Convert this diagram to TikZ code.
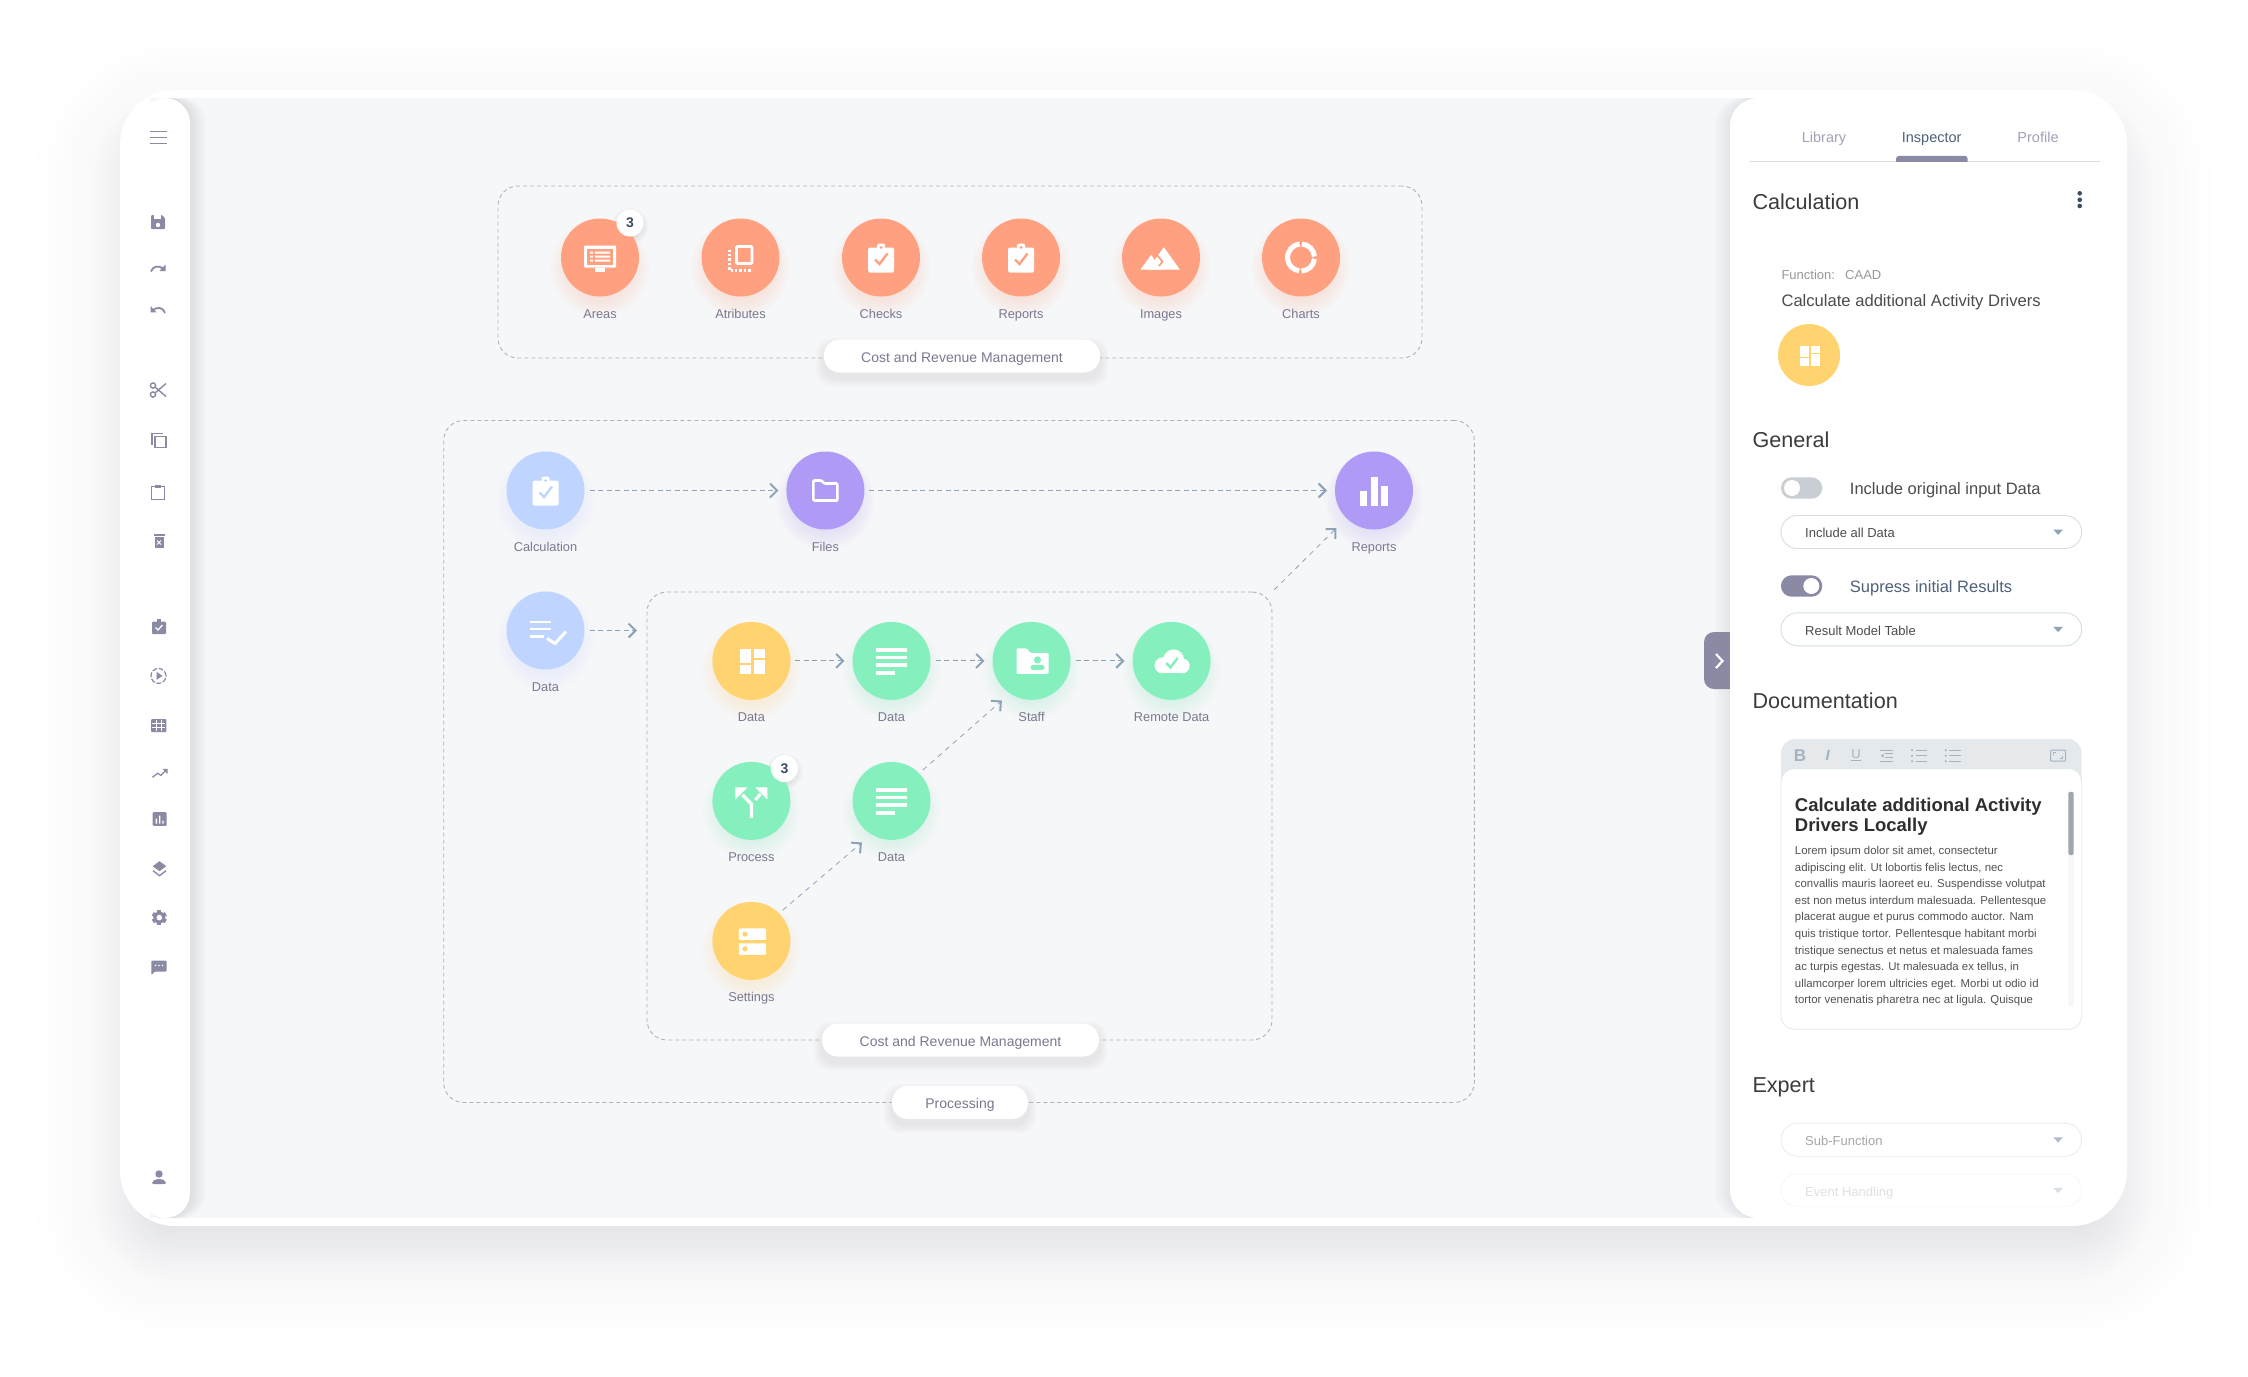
\documentclass[tikz,border=0pt]{standalone}
\usepackage{fontspec}
\setmainfont{Liberation Sans}
\usepackage{tikz}
\usetikzlibrary{arrows.meta, positioning, backgrounds}

\definecolor{canvasc}{HTML}{F6F7F9}
\definecolor{orangec}{HTML}{FFA180}
\definecolor{bluec}{HTML}{BFD5FF}
\definecolor{purplec}{HTML}{AF9BF5}
\definecolor{yellowc}{HTML}{FFD470}
\definecolor{greenc}{HTML}{85F0BD}
\definecolor{tagc}{HTML}{7A7890}
\definecolor{inkc}{HTML}{8A8AA5}
\definecolor{flowc}{HTML}{8EA3B8}
\definecolor{boxc}{HTML}{AEB2B9}
\definecolor{linec}{HTML}{D5DFE2}
\definecolor{headc}{HTML}{3C3C3C}
\definecolor{barc}{HTML}{A3B2BF}
\definecolor{slatec}{HTML}{4F6078}
\definecolor{dotc}{HTML}{3D4C60}
\definecolor{shadowc}{HTML}{464B64}
\definecolor{offc}{HTML}{C9CED5}

\newcommand{\sizept}[1]{\fontsize{#1}{#1}\selectfont}
\newcommand{\putIcon}[4][1]{\begin{scope}[shift={(#2)},scale=#1,color=#3]#4\end{scope}}

% soft shadows, all on the background layer
\newcommand{\glow}[2]{\begin{pgfonlayer}{background}
    \foreach \r in {22,25,...,49} \fill[#2,opacity=.036] ([yshift=-10pt]#1) circle (\r pt);
\end{pgfonlayer}}
\newcommand{\pillglow}[1]{\begin{pgfonlayer}{background}
    \foreach \s in {1,...,8} \fill[black!70,opacity=.012,rounded corners=16pt]
        ([xshift=-\s pt,yshift=-6pt-\s pt]#1.south west) rectangle ([xshift=\s pt,yshift=-6pt+\s pt]#1.north east);
\end{pgfonlayer}}
\newcommand{\badgeglow}[1]{\begin{pgfonlayer}{background}
    \foreach \r in {12,14,16,18} \fill[black!70,opacity=.03] ([yshift=-3pt]#1) circle (\r pt);
\end{pgfonlayer}}

% bubble icons, in pixels round the centre
\newcommand{\icAreas}[1]{
    \fill[rounded corners=1pt] (-16,-12) rectangle (16,10);
    \fill[#1] (-13,-9) rectangle (13,7);
    \fill (-10,-6) rectangle (-7,-4) (-5,-6) rectangle (10,-4);
    \fill (-10,-2) rectangle (-7,0) (-5,-2) rectangle (10,0);
    \fill (-10,2) rectangle (-7,4) (-5,2) rectangle (10,4);
    \fill (-5,10) rectangle (5,14);
}
\newcommand{\icAttr}{
    \draw[line width=2.6pt,rounded corners=1pt] (-4,-11) rectangle (11.5,6);
    \draw[line width=2.4pt,dash pattern=on 2.4pt off 2pt] (-11,-8) -- (-11,13) -- (12,13);
}
\newcommand{\icClip}[1]{
    \fill[rounded corners=1.5pt] (-13,-10) rectangle (13,15);
    \fill[rounded corners=1.5pt] (-4,-14) rectangle (4,-8);
    \fill[#1] (0,-10) circle (1.5pt);
    \draw[#1,line width=2.4pt] (-6,2) -- (-1.5,6.5) -- (6.5,-4);
}
\newcommand{\icMount}[1]{
    \fill (2.8,-10.3) -- (18.8,12) -- (-13,12) -- cycle;
    \fill (-9.8,-2.7) -- (0,12) -- (-20.5,12) -- cycle;
    \draw[#1,line width=1.8pt] (-5,-3.5) -- (1.5,4) -- (-2,8.5);
}
\newcommand{\icRing}{
    \draw[line width=5pt] (4:13.5pt) arc[start angle=4,end angle=86,radius=13.5pt];
    \draw[line width=5pt] (96:13.5pt) arc[start angle=96,end angle=262,radius=13.5pt];
    \draw[line width=5pt] (272:13.5pt) arc[start angle=272,end angle=354,radius=13.5pt];
}
\newcommand{\icFolder}{
    \draw[line width=2.6pt,rounded corners=1pt] (-12,-10) -- (-4,-10) -- (-1,-7) -- (12,-7) -- (12,10) -- (-12,10) -- cycle;
}
\newcommand{\icBars}{
    \fill (-14,0) rectangle (-7,15);
    \fill (-3.5,-14) rectangle (3.5,15);
    \fill (7,-5) rectangle (14,15);
}
\newcommand{\icListCheck}{
    \fill (-15.5,-10) rectangle (5.5,-7.5);
    \fill (-15.5,-3) rectangle (5.5,-.5);
    \fill (-15.5,4.5) rectangle (-1.5,7);
    \draw[line width=3pt] (1.5,8) -- (9.5,13) -- (20.5,1);
}
\newcommand{\icDash}{
    \fill (-11.3,-11.8) rectangle (-.4,2.5);
    \fill (-11.3,4.3) rectangle (-.4,13.2);
    \fill (2.2,-11.8) rectangle (13.4,-2.9);
    \fill (2.2,-1.1) rectangle (13.4,13.2);
}
\newcommand{\icLines}{
    \fill (-15.6,-12.5) rectangle (15.6,-9);
    \fill (-15.6,-5.4) rectangle (15.6,-1.8);
    \fill (-15.6,2.5) rectangle (15.6,6);
    \fill (-15.6,10.4) rectangle (3.5,14);
}
\newcommand{\icStaff}[1]{
    \fill[rounded corners=1pt] (-15,-12.5) -- (-5,-12.5) -- (-1,-8) -- (17,-8) -- (17,13) -- (-15,13) -- cycle;
    \fill[#1] (6,-1) circle (3.6pt);
    \fill[#1,rounded corners=2.5pt] (-1,4) rectangle (13,9);
}
\newcommand{\icCloud}[1]{
    \fill (-9,4.5) circle (8pt) (2,-1) circle (10.5pt) (10.5,5) circle (7.5pt);
    \fill (-9,4.5) rectangle (10.5,12.5);
    \draw[#1,line width=2.5pt] (-5.5,2) -- (-1,6.5) -- (6,-3);
}
\newcommand{\icFork}{
    \draw[line width=3.2pt] (0,17) -- (0,3) -- (-9,-6);
    \fill (-16,-13.5) -- (-4,-13.5) -- (-16,-1.5) -- cycle;
    \draw[line width=3.2pt] (4,-1) -- (9,-7);
    \fill (16,-13.5) -- (4,-13.5) -- (16,-1.5) -- cycle;
}
\newcommand{\icServers}[1]{
    \fill[rounded corners=1pt] (-12.6,-12.5) rectangle (14.7,-1);
    \fill[rounded corners=1pt] (-12.6,2.5) rectangle (14.7,14);
    \fill[#1] (-6.5,-6.8) circle (2.6pt) (-6.5,8) circle (2.6pt);
}

\tikzset{
    bubble/.style={circle, fill=#1, minimum size=78pt, inner sep=0pt, outer sep=0pt},
    tag/.style={font={\sizept{12.8}}, text=tagc, inner sep=0pt, text height=9.5pt, text depth=2.5pt},
    badge/.style={circle, fill=white, minimum size=27pt, inner sep=0pt, font={\bfseries\sizept{14}}, text=dotc},
    groupbox/.style={draw=boxc, line width=.9pt, dash pattern=on 4pt off 3pt, rounded corners=20pt, inner sep=0pt, outer sep=0pt},
    pill/.style={fill=white, rounded corners=16pt, minimum height=33pt, inner sep=0pt, font={\sizept{14}}, text=tagc,
        text height=12pt, text depth=0pt},
    flow/.style={draw=flowc, line width=1pt, dash pattern=on 5pt off 3.5pt, shorten <=5pt, shorten >=8pt,
        -{Straight Barb[length=7pt, width=14pt, line width=2pt]}},
    slant/.style={flow, line width=.8pt, dash pattern=on 5pt off 5pt, shorten >=0pt},
    heading/.style={anchor=mid west, inner sep=0pt, yshift=-5.5pt, font={\sizept{21.6}}, text=headc},
    ptext/.style={anchor=mid west, inner sep=0pt, yshift=-3.3pt, font={\sizept{#1}}, text=black!70},
    tabtext/.style={inner sep=0pt, font={\sizept{14.5}}, text=#1, text height=10.5pt, text depth=3pt},
    dropbox/.style={draw=#1, line width=.9pt, fill=white, rounded corners=16.5pt, minimum width=300.7pt, minimum height=33pt, inner sep=0pt},
    toggle/.style={fill=#1, rounded corners=10.7pt, minimum width=41.3pt, minimum height=21.4pt, inner sep=0pt},
    knob/.style={circle, fill=white, minimum size=16pt, inner sep=0pt},
}

\begin{document}
\begin{tikzpicture}[x=1pt, y=-1pt]
    \useasboundingbox (0,0) rectangle (2248,1376);

    \begin{pgfonlayer}{background}
        % card with its big shadow
        \foreach \s [evaluate=\s as \rr using {max(55+\s,20)}] in {85,77,...,30}
            \fill[shadowc, opacity=.0045, rounded corners=\rr pt] ({120-\s},{120-\s}) rectangle ({2127+\s},{1256+\s});
        \foreach \s [evaluate=\s as \rr using {max(55+\s,20)}] in {28,24,...,-28}
            \fill[shadowc, opacity=.0085, rounded corners=\rr pt] ({120-\s},{120-\s}) rectangle ({2127+\s},{1256+\s});
        \fill[white, rounded corners=55pt] (120,90) rectangle (2127,1226);
        \fill[canvasc] (150,98) rectangle (1760,1218);
        \begin{scope}
            \clip (150,98) rectangle (1760,1218);
            \foreach \s in {2,4,...,16} {
                \fill[shadowc, opacity=.016, rounded corners=25pt] (140,98) rectangle ({190+\s},1218);
                \fill[shadowc, opacity=.012, rounded corners=28pt] ({1730-\s},98) rectangle (1800,1218);
            }
        \end{scope}
        \fill[white, rounded corners=25pt] (140,98) rectangle (190,1218);
        \fill[white, rounded corners=28pt] (1730,98) rectangle (1800,1218);
    \end{pgfonlayer}

    % sidebar
    \putIcon{158.3,137.4}{inkc}{\foreach \y in {-6,0,6} \draw[line width=1.8pt] (-8.5,\y) -- (8.5,\y);}
    \putIcon{158,222}{inkc}{
        \fill[rounded corners=1pt] (-7,-7) -- (4,-7) -- (7,-4) -- (7,7) -- (-7,7) -- cycle;
        \fill[white] (-4,-7) rectangle (3,-3.5);
        \fill[white] (0,3) circle (2.2pt);
    }
    \putIcon{158,267.5}{inkc}{
        \draw[line width=1.8pt] (-7,4) .. controls (-5,-2) and (1,-2) .. (5,1);
        \fill (7.5,-3) -- (7.5,3.5) -- (1.5,3.5) -- cycle;
    }
    \putIcon{158,308.9}{inkc}{\begin{scope}[xscale=-1]
        \draw[line width=1.8pt] (-7,4) .. controls (-5,-2) and (1,-2) .. (5,1);
        \fill (7.5,-3) -- (7.5,3.5) -- (1.5,3.5) -- cycle;
    \end{scope}}
    \putIcon{158,390}{inkc}{
        \draw[line width=1.4pt] (-5,-4.5) circle (2.6pt) (-5,4.5) circle (2.6pt);
        \draw[line width=1.4pt] (-3,-3) -- (8,6.5) (-3,3) -- (8,-6.5);
    }
    \putIcon{159,440.5}{inkc}{
        \draw[line width=1.2pt] (-4,-4) rectangle (7,7);
        \draw[line width=1.2pt] (-7,4) -- (-7,-7) -- (4,-7);
    }
    \putIcon{158,492.5}{inkc}{
        \draw[line width=1.3pt] (-6.5,-6) rectangle (6.5,7);
        \fill (-3,-8) rectangle (3,-4.5);
    }
    \putIcon{159,541}{inkc}{
        \fill (-4.5,-4) rectangle (4.5,7);
        \fill (-5.5,-7) rectangle (5.5,-5.5);
        \draw[white, line width=1pt] (-2,-.5) -- (2,3.5) (-2,3.5) -- (2,-.5);
    }
    \putIcon{159,626.5}{inkc}{
        \fill[rounded corners=1pt] (-7,-5) rectangle (7,7.5);
        \fill (-2,-7.5) rectangle (2,-4);
        \draw[white, line width=1.3pt] (-3.5,1) -- (-1,3.5) -- (3.5,-1.5);
    }
    \putIcon{158.5,675.9}{inkc}{
        \draw[line width=1.2pt, dash pattern=on 5pt off 1.6pt] (0,0) circle (7.5pt);
        \fill (-2,-4) -- (4,0) -- (-2,4) -- cycle;
    }
    \putIcon{158.7,725.6}{inkc}{
        \fill[rounded corners=1pt] (-7.6,-6.6) rectangle (7.6,6.6);
        \foreach \x in {-2.7,2.7} \draw[white, line width=.9pt] (\x,-5.5) -- (\x,5.5);
        \foreach \y in {-2.4,2} \draw[white, line width=.9pt] (-6.5,\y) -- (6.5,\y);
    }
    \putIcon{160,773.3}{inkc}{
        \draw[line width=1.3pt] (-7.5,4) -- (-2.5,0) -- (1,2) -- (6.5,-3.5);
        \fill (7.5,-4.5) -- (7.5,.5) -- (2.5,-4.5) -- cycle;
    }
    \putIcon{159.7,819}{inkc}{
        \fill[rounded corners=1pt] (-7,-6.8) rectangle (7,6.8);
        \fill[white] (-4,-.5) rectangle (-2.6,4.5) (-.7,-3.5) rectangle (.7,4.5) (2.6,1.5) rectangle (4,4.5);
    }
    \putIcon{159.5,868.7}{inkc}{
        \fill (0,-7.5) -- (6.8,-2.5) -- (0,2.5) -- (-6.8,-2.5) -- cycle;
        \draw[line width=1.4pt] (-6.5,2) -- (0,7) -- (6.5,2);
    }
    \putIcon{159.3,917.6}{inkc}{
        \foreach \a in {0,60,...,300} \fill[rotate=\a] (-2,-7.5) rectangle (2,-4);
        \fill (0,0) circle (6pt);
        \fill[white] (0,0) circle (2.8pt);
    }
    \putIcon{159,967}{inkc}{
        \fill[rounded corners=1pt] (-7.7,-6.5) -- (7.7,-6.5) -- (7.7,4.5) -- (-4,4.5) -- (-7.7,8) -- cycle;
        \fill[white] (-3.4,-1.6) circle (.9pt) (0,-1.6) circle (.9pt) (3.4,-1.6) circle (.9pt);
    }
    \putIcon{159,1177.5}{inkc}{
        \fill (0,-3.5) circle (3.7pt);
        \fill[rounded corners=2pt] (-7,6.5) -- (-7,4) -- (-3,1.5) -- (3,1.5) -- (7,4) -- (7,6.5) -- cycle;
    }

    % group boxes
    \node[groupbox, minimum width=924pt, minimum height=172pt] (topbox) at (960,272) {};
    \node[groupbox, minimum width=1030.6pt, minimum height=682pt] (procbox) at (959,761.5) {};
    \node[groupbox, minimum width=625pt, minimum height=448pt] (innerbox) at (959.5,816) {};
    \node[pill, minimum width=276pt] (topname) at (962,356) {Cost and Revenue Management};
    \node[pill, minimum width=277pt] (innername) at (960.5,1040) {Cost and Revenue Management};
    \node[pill, minimum width=136pt] (procname) at (960,1102.5) {Processing};
    \pillglow{topname} \pillglow{innername} \pillglow{procname}

    % top row
    \foreach \nm/\xx/\txt in {areas/600/Areas, attribs/740.5/Atributes, checks/881/Checks,
            topreports/1021/Reports, images/1161/Images, charts/1301/Charts} {
        \node[bubble=orangec] (\nm) at (\xx,257.5) {};
        \node[tag, below=12pt of \nm] (\nm-t) {\txt};
        \glow{\nm}{orangec}
    }
    \putIcon{areas}{white}{\icAreas{orangec}}
    \putIcon{attribs}{white}{\icAttr}
    \putIcon{checks}{white}{\icClip{orangec}}
    \putIcon{topreports}{white}{\icClip{orangec}}
    \putIcon{images}{white}{\icMount{orangec}}
    \putIcon{charts}{white}{\icRing}
    \node[badge] (areasbadge) at (630,223) {3};
    \badgeglow{areasbadge}

    % processing
    \node[bubble=bluec] (calc) at (545.5,490.5) {};
    \node[bubble=purplec] (files) at (825.4,490.5) {};
    \node[bubble=purplec] (reports) at (1374,490.5) {};
    \node[bubble=bluec] (input) at (545.5,630.5) {};
    \node[bubble=yellowc] (layout) at (751.4,660.9) {};
    \node[bubble=greenc] (dataa) at (891.5,660.9) {};
    \node[bubble=greenc] (staff) at (1031.5,660.9) {};
    \node[bubble=greenc] (remote) at (1171.6,660.9) {};
    \node[bubble=greenc] (process) at (751.4,800.9) {};
    \node[bubble=greenc] (datab) at (891.5,800.9) {};
    \node[bubble=yellowc] (settings) at (751.4,940.9) {};
    \foreach \nm/\col in {calc/bluec, files/purplec, reports/purplec, input/bluec, layout/yellowc, dataa/greenc,
            staff/greenc, remote/greenc, process/greenc, datab/greenc, settings/yellowc} {
        \glow{\nm}{\col}
    }
    \foreach \nm/\txt in {calc/Calculation, files/Files, reports/Reports, input/Data, layout/Data, dataa/Data,
            staff/Staff, remote/Remote Data, process/Process, datab/Data, settings/Settings} {
        \node[tag, below=12pt of \nm] (\nm-t) {\txt};
    }
    \putIcon{calc}{white}{\icClip{bluec}}
    \putIcon{files}{white}{\icFolder}
    \putIcon{reports}{white}{\icBars}
    \putIcon{input}{white}{\icListCheck}
    \putIcon{layout}{white}{\icDash}
    \putIcon{dataa}{white}{\icLines}
    \putIcon{staff}{white}{\icStaff{greenc}}
    \putIcon{remote}{white}{\icCloud{greenc}}
    \putIcon{process}{white}{\icFork}
    \putIcon{datab}{white}{\icLines}
    \putIcon{settings}{white}{\icServers{yellowc}}
    \node[badge] (processbadge) at (784.4,768.6) {3};
    \badgeglow{processbadge}

    % flows
    \draw[flow] (calc) -- (files);
    \draw[flow] (files) -- (reports);
    \draw[flow] (input) -- ([xshift=-2pt]input -| innerbox.west);
    \draw[flow] (layout) -- (dataa);
    \draw[flow] (dataa) -- (staff);
    \draw[flow] (staff) -- (remote);
    \draw[slant] (settings.45) -- ([xshift=-2pt,yshift=-14pt]datab.225);
    \draw[slant] (datab.45) -- ([xshift=-2pt,yshift=-12pt]staff.225);
    \draw[slant, shorten <=3pt] (innerbox.north east) -- ([xshift=-10pt,yshift=-10pt]reports.225);

    % inspector
    \node[tabtext=inkc!80] (tablib) at (1824,138.6) {Library};
    \node[tabtext=slatec] (tabins) at (1931.7,138.6) {Inspector};
    \node[tabtext=inkc!80] (tabpro) at (2038,138.6) {Profile};
    \draw[linec, line width=.9pt] (1750,161.6) -- (2100,161.6);
    \fill[inkc, rounded corners=3pt] (1896,155.8) rectangle (1967.7,166);
    \fill[white] (1896,162) rectangle (1967.7,167);
    \node[heading] (calchead) at (1752.3,201.7) {Calculation};
    \foreach \y in {193.3,199.8,206} \fill[dotc] (2079.7,\y) circle (2.3pt);
    \node[ptext=13, text=black!40] (funclabel) at (1781.3,273.7) {Function:};
    \node[ptext=13, text=black!40] (funcname) at (1845,273.7) {CAAD};
    \node[ptext=16.6] (funcdesc) at (1781.3,300.9) {Calculate additional Activity Drivers};
    \node[circle, fill=yellowc, minimum size=62pt, inner sep=0pt] (funcicon) at (1809,355) {};
    \putIcon[.8]{funcicon}{white}{\icDash}

    \node[heading] (genhead) at (1752.3,439) {General};
    \node[toggle=offc] (toga) at (1801.6,488) {};
    \node[knob] (togak) at (1792,488) {};
    \node[ptext=16.5] (togat) at (1849.7,488.8) {Include original input Data};
    \node[dropbox=linec] (dropa) at (1931.3,532) {};
    \node[ptext=13] (dropat) at (1805,532) {Include all Data};
    \node[toggle=inkc] (togb) at (1801.6,586) {};
    \node[knob] (togbk) at (1811.3,586) {};
    \node[ptext=16.5, text=slatec] (togbt) at (1849.7,586.4) {Supress initial Results};
    \node[dropbox=linec] (dropb) at (1931.3,629.3) {};
    \node[ptext=13] (dropbt) at (1805,629.3) {Result Model Table};

    % handle of the panel
    \fill[inkc, rounded corners=10pt] (1704,632) rectangle (1745,689);
    \fill[white] (1730,630) rectangle (1750,691);
    \draw[white, line width=2.2pt] (1716,654) -- (1722.5,661) -- (1716,668);

    \node[heading] (dochead) at (1752.3,700.4) {Documentation};
    \fill[black!5!linec!50, rounded corners=14pt] (1781,739) rectangle (2081.7,790);
    \draw[linec!70, line width=.8pt, fill=white, rounded corners=13pt] (1781,768.6) rectangle (2081.7,1029.3);
    \node[inner sep=0pt, text=barc, font={\bfseries\sizept{17}}] (toolb) at (1800,755.7) {B};
    \node[inner sep=0pt, text=barc, font={\itshape\bfseries\sizept{15}}] (tooli) at (1827.7,755.7) {I};
    \node[inner sep=0pt, text=barc, font={\sizept{13}}] (toolu) at (1856,755) {\underline{U}};
    \putIcon{1886.7,755.7}{barc}{
        \foreach \y in {-5.5,-2,2,5.5} \draw[line width=1.1pt] (-2,\y) -- (6.5,\y);
        \draw[line width=1.1pt] (-6.5,-5.5) -- (-2,-5.5) (-6.5,5.5) -- (-2,5.5);
        \fill (-6,0) -- (-3,-2) -- (-3,2) -- cycle;
    }
    \putIcon{1919,755.7}{barc}{
        \foreach \y in {-5.5,0,5.5} {
            \fill (-7,\y) circle (1.1pt);
            \draw[line width=1.1pt] (-3.5,\y) -- (7.5,\y);
        }
    }
    \putIcon{1952.7,755.7}{barc}{
        \foreach \y in {-5.5,0,5.5} {
            \fill (-7,\y) circle (1.1pt);
            \draw[line width=1.1pt] (-3.5,\y) -- (8,\y);
        }
    }
    \putIcon{2058,755.7}{barc}{
        \draw[line width=1pt, rounded corners=1pt] (-7.5,-5.5) rectangle (7.5,5.5);
        \draw[line width=1pt] (-4.5,-.5) -- (-4.5,-3) -- (-2,-3) (4.5,.5) -- (4.5,3) -- (2,3);
    }
    \node[anchor=north west, inner sep=0pt, align=left, text=black!82, font={\bfseries\fontsize{18.5}{20.6}\selectfont}]
        (docname) at (1794.7,797.5) {Calculate additional Activity\\Drivers Locally};
    \node[anchor=north west, inner sep=0pt, align=left, text=black!68, font={\fontsize{11.4}{16.6}\selectfont}] (docbody) at (1794.7,846)
        {Lorem ipsum dolor sit amet, consectetur\\
        adipiscing elit. Ut lobortis felis lectus, nec\\
        convallis mauris laoreet eu. Suspendisse volutpat\\
        est non metus interdum malesuada. Pellentesque\\
        placerat augue et purus commodo auctor. Nam\\
        quis tristique tortor. Pellentesque habitant morbi\\
        tristique senectus et netus et malesuada fames\\
        ac turpis egestas. Ut malesuada ex tellus, in\\
        ullamcorper lorem ultricies eget. Morbi ut odio id\\
        tortor venenatis pharetra nec at ligula. Quisque};
    \fill[linec!25, rounded corners=2pt] (2068.3,791.8) rectangle (2073.7,1006.8);
    \fill[black!25!linec, rounded corners=2pt] (2068.3,791.8) rectangle (2073.7,855);

    \node[heading] (exphead) at (1752.3,1084.3) {Expert};
    \node[dropbox=linec!55] (dropc) at (1931.3,1139.7) {};
    \node[ptext=13, text=black!35] (dropct) at (1805,1139.7) {Sub-Function};
    \node[dropbox=linec!22] (dropd) at (1931.3,1190.2) {};
    \node[ptext=13, text=black!12] (dropdt) at (1805,1190.2) {Event Handling};

    % carets of the drop-downs
    \foreach \nm/\col in {dropa/flowc, dropb/flowc, dropc/flowc!70, dropd/flowc!35}
        \fill[\col] ([xshift=-24pt]\nm.east) ++(-4.8,-2.4) -- ++(9.6,0) -- ++(-4.8,5.2) -- cycle;
\end{tikzpicture}
\end{document}
